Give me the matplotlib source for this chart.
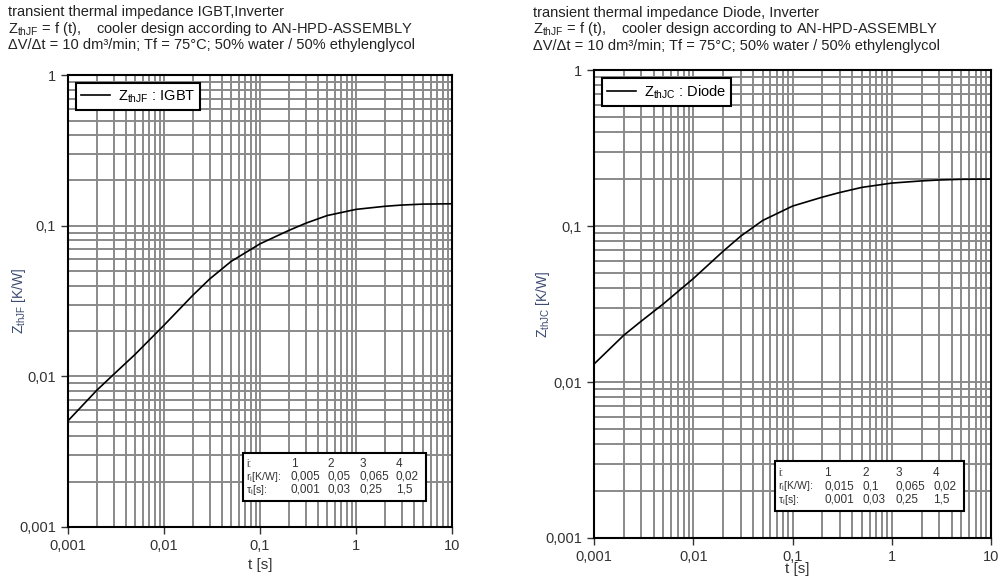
import matplotlib
matplotlib.use("Agg")
import matplotlib.pyplot as plt
from matplotlib.patches import Rectangle
from matplotlib.ticker import LogLocator, FixedLocator, FixedFormatter, NullFormatter

plt.rcParams["font.family"] = ["Liberation Sans", "DejaVu Sans"]
plt.rcParams["mathtext.fontset"] = "custom"
plt.rcParams["mathtext.rm"] = "Liberation Sans"

# Time axis samples [s]
t = [0.001, 0.002, 0.003, 0.005, 0.01, 0.02, 0.03, 0.05, 0.1, 0.2, 0.3, 0.5,
     1, 2, 3, 5, 10]
# Transient thermal impedance [K/W]
z_igbt = [0.00507, 0.0081, 0.01033, 0.0140, 0.02186, 0.0346, 0.0444, 0.0580,
          0.0759, 0.0932, 0.1040, 0.1169, 0.1285, 0.1347, 0.1373, 0.1393, 0.1400]
z_diode = [0.01303, 0.01997, 0.02459, 0.0317, 0.0460, 0.0689, 0.0860, 0.1085,
           0.1342, 0.1532, 0.1641, 0.1769, 0.1885, 0.1947, 0.1973, 0.1993, 0.2000]

# Foster table values
idx = ["1", "2", "3", "4"]
r_igbt = ["0,005", "0,05", "0,065", "0,02"]
r_diode = ["0,015", "0,1", "0,065", "0,02"]
tau = ["0,001", "0,03", "0,25", "1,5"]

x_ticks = [0.001, 0.01, 0.1, 1, 10]
x_labels = ["0,001", "0,01", "0,1", "1", "10"]
y_ticks = [0.001, 0.01, 0.1, 1]
y_labels = ["0,001", "0,01", "0,1", "1"]

titles = [
    ["transient thermal impedance IGBT,Inverter",
     r"Z$_{\mathrm{thJF}}$ = f (t),    cooler design according to AN-HPD-ASSEMBLY",
     "ΔV/Δt = 10 dm³/min; Tf = 75°C; 50% water / 50% ethylenglycol"],
    ["transient thermal impedance Diode, Inverter",
     r"Z$_{\mathrm{thJF}}$ = f (t),    cooler design according to AN-HPD-ASSEMBLY",
     "ΔV/Δt = 10 dm³/min; Tf = 75°C; 50% water / 50% ethylenglycol"],
]

fig = plt.figure(figsize=(10, 5.77), dpi=100)
ax1 = fig.add_axes([0.068, 0.0867, 0.384, 0.783])
ax2 = fig.add_axes([0.594, 0.0676, 0.397, 0.811])

panels = [
    (ax1, z_igbt, r_igbt, r"Z$_{\mathrm{thJF}}$ : IGBT", r"Z$_{\mathrm{thJF}}$ [K/W]", 0.5, -0.069),
    (ax2, z_diode, r_diode, r"Z$_{\mathrm{thJC}}$ : Diode", r"Z$_{\mathrm{thJC}}$ [K/W]", 0.511, -0.052),
]

for ax, z, r, leg, ylab, xl_x, xl_y in panels:
    ax.plot(t, z, color="black", linewidth=1.2, label=leg, zorder=3)
    ax.set_xscale("log")
    ax.set_yscale("log")
    ax.set_xlim(0.001, 10)
    ax.set_ylim(0.001, 1)

    ax.xaxis.set_major_locator(FixedLocator(x_ticks))
    ax.xaxis.set_major_formatter(FixedFormatter(x_labels))
    ax.yaxis.set_major_locator(FixedLocator(y_ticks))
    ax.yaxis.set_major_formatter(FixedFormatter(y_labels))
    ax.xaxis.set_minor_locator(LogLocator(base=10, subs=range(2, 10), numticks=20))
    ax.yaxis.set_minor_locator(LogLocator(base=10, subs=range(2, 10), numticks=20))
    ax.xaxis.set_minor_formatter(NullFormatter())
    ax.yaxis.set_minor_formatter(NullFormatter())

    ax.grid(which="both", color="#8a8a8a", linewidth=1.4)
    ax.tick_params(which="minor", length=0)
    ax.tick_params(which="major", direction="out", length=5, width=1,
                   labelsize=10.5, colors="#333333")
    for s in ax.spines.values():
        s.set_linewidth(1.5)
        s.set_color("black")

    ax.set_xlabel("t [s]", fontsize=11, color="#333333")
    ax.xaxis.set_label_coords(xl_x, xl_y)
    ax.set_ylabel(ylab, fontsize=10, color="#3a4a70")
    ax.yaxis.set_label_coords(-0.105, 0.5)

    lg = ax.legend(loc="upper left", fancybox=False, framealpha=1,
                   edgecolor="black", fontsize=10.5, handlelength=2.0,
                   handletextpad=0.5, borderaxespad=0.55, borderpad=0.35)
    lg.get_frame().set_linewidth(1.5)

    # Foster parameter table
    ax.add_patch(Rectangle((0.456, 0.058), 0.476, 0.106, transform=ax.transAxes,
                           facecolor="white", edgecolor="black", linewidth=1.5,
                           zorder=5))
    cols = [0.464, 0.58, 0.676, 0.76, 0.854]
    rows = [0.139, 0.111, 0.082]
    table_rows = [["i:"] + idx,
                  [r"r$_{\mathrm{i}}$[K/W]:"] + r,
                  [r"τ$_{\mathrm{i}}$[s]:"] + tau]
    for row, y in zip(table_rows, rows):
        for j, (val, x) in enumerate(zip(row, cols)):
            ax.text(x, y, val, transform=ax.transAxes,
                    fontsize=7.6 if j == 0 else 8.5,
                    color="#333333", va="center", ha="left", zorder=6)

fig.text(0.008, 0.991, "\n".join(titles[0]), fontsize=10.5, va="top",
         ha="left", linespacing=1.05, color="#222222")
fig.text(0.533, 0.99, "\n".join(titles[1]), fontsize=10.5, va="top",
         ha="left", linespacing=1.05, color="#222222")

fig.savefig("out.png", dpi=100)
